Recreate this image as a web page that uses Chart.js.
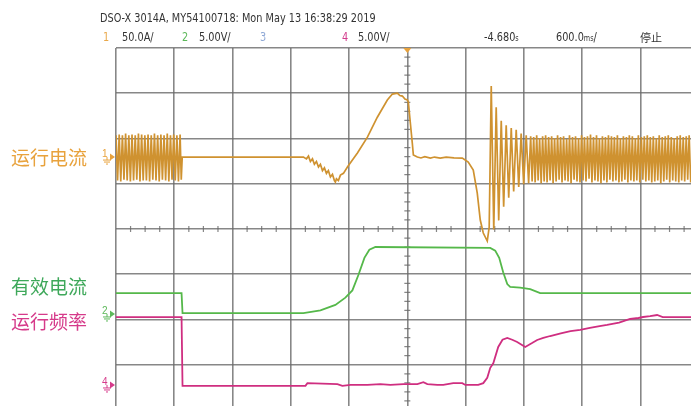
<!DOCTYPE html>
<html><head><meta charset="utf-8">
<script src="https://cdn.jsdelivr.net/npm/chart.js@4.4.1/dist/chart.umd.min.js"></script>
<style>
html,body{margin:0;padding:0;background:#fff;}
#wrap{position:relative;width:691px;height:406px;overflow:hidden;background:#fff;}
canvas{position:absolute;left:0;top:0;}
.t{position:absolute;white-space:nowrap;font-family:"Liberation Sans Narrow","DejaVu Sans Condensed","Liberation Sans",sans-serif;font-size:12px;color:#333;line-height:14px;transform:scaleX(0.9);transform-origin:0 50%;}
.lab{position:absolute;white-space:nowrap;font-family:"Noto Sans CJK SC",sans-serif;font-size:19px;line-height:22px;}
.sm{font-size:8px;}
</style></head><body>
<div id="wrap">
<canvas id="c" width="691" height="406"></canvas>
<div class="t" style="left:100px;top:11px;">DSO-X 3014A, MY54100718: Mon May 13 16:38:29 2019</div>
<div class="t" style="left:103px;top:30px;color:#E9A84A;">1</div>
<div class="t" style="left:122px;top:30px;">50.0A/</div>
<div class="t" style="left:182px;top:30px;color:#5DB85A;">2</div>
<div class="t" style="left:199px;top:30px;">5.00V/</div>
<div class="t" style="left:260px;top:30px;color:#8FA9D6;">3</div>
<div class="t" style="left:342px;top:30px;color:#D23C8C;">4</div>
<div class="t" style="left:358px;top:30px;">5.00V/</div>
<div class="t" style="left:484px;top:30px;">-4.680<span class="sm">s</span></div>
<div class="t" style="left:556px;top:30px;">600.0<span class="sm">ms</span>/</div>
<div class="t" style="left:640px;top:30px;font-family:'Noto Sans CJK SC';font-size:11px;transform:none;">停止</div>
<div class="lab" style="left:11px;top:146px;color:#E8A23C;">运行电流</div>
<div class="lab" style="left:11px;top:275px;color:#3EA85A;">有效电流</div>
<div class="lab" style="left:11px;top:310px;color:#D63A8A;">运行频率</div>
</div>
<script>
// ---- timebase / screen (oscilloscope settings) ----
const timeCenter = -4.680;      // s
const timePerDiv = 0.6;         // s/div
const visibleRightTime = -1.759; // image is cropped on the right
const yDivTop = 4, yDivBottom = -3.912; // visible vertical range in divisions

// channel settings: scale per division and ground position in divisions
const ch1Scale = 50, ch1Ground = 1.59;   // A/div
const ch2Scale = 5,  ch2Ground = -1.878; // V/div
const ch4Scale = 5,  ch4Ground = -3.447; // V/div

// ---- Channel 1: 运行电流 (A) ----
const ch1Time = [
-7.680,-7.664,-7.647,-7.631,-7.614,-7.598,-7.581,-7.565,-7.548,-7.532,
-7.515,-7.499,-7.482,-7.466,-7.449,-7.433,-7.416,-7.400,-7.383,-7.367,
-7.350,-7.334,-7.317,-7.301,-7.284,-7.268,-7.251,-7.235,-7.218,-7.202,
-7.185,-7.169,-7.152,-7.136,-7.119,-7.103,-7.086,-7.070,-7.053,-7.037,
-7.020,-7.008,-6.998,
-5.750,-5.719,-5.698,-5.678,-5.657,-5.637,-5.616,-5.595,-5.575,-5.554,
-5.534,-5.513,-5.493,-5.472,-5.451,-5.431,-5.421,-5.410,-5.390,-5.369,
-5.338,-5.297,-5.194,-5.091,-4.989,-4.886,-4.834,-4.783,-4.757,-4.731,
-4.705,-4.680,-4.670,-4.629,-4.618,-4.577,-4.540,-4.500,-4.443,-4.400,
-4.341,-4.280,-4.200,-4.114,-4.053,-4.001,-3.960,-3.929,-3.898,-3.857,
-3.837,
-3.816,-3.790,-3.765,-3.739,-3.713,-3.688,-3.662,-3.636,-3.610,-3.585,
-3.559,-3.533,-3.508,-3.482,-3.456,-3.431,
-3.410,-3.395,-3.379,-3.364,-3.348,-3.333,-3.318,-3.302,-3.287,-3.271,
-3.256,-3.241,-3.225,-3.210,-3.194,-3.179,-3.164,-3.148,-3.133,-3.117,
-3.102,-3.087,-3.071,-3.056,-3.040,-3.025,-3.010,-2.994,-2.979,-2.963,
-2.948,-2.933,-2.917,-2.902,-2.886,-2.871,-2.856,-2.840,-2.825,-2.809,
-2.794,-2.779,-2.763,-2.748,-2.732,-2.717,-2.702,-2.686,-2.671,-2.655,
-2.640,-2.625,-2.609,-2.594,-2.578,-2.563,-2.548,-2.532,-2.517,-2.501,
-2.486,-2.471,-2.455,-2.440,-2.424,-2.409,-2.394,-2.378,-2.363,-2.347,
-2.332,-2.317,-2.301,-2.286,-2.270,-2.255,-2.240,-2.224,-2.209,-2.193,
-2.178,-2.163,-2.147,-2.132,-2.116,-2.101,-2.086,-2.070,-2.055,-2.039,
-2.024,-2.009,-1.993,-1.978,-1.962,-1.947,-1.932,-1.916,-1.901,-1.885,
-1.870,-1.855,-1.839,-1.824,-1.808,-1.793,-1.778,-1.762
];
const ch1Amp = [
24,-26,25,-27,24,-25,26,-26,24,-27,
25,-26,24,-25,26,-27,25,-26,24,-26,
25,-27,24,-25,26,-26,24,-27,25,-25,
24,-26,26,-27,24,-25,25,-26,24,-27,
25,-25,0,
0,-2,1,-5,-2,-8,-5,-11,-8,-15,
-12,-18,-15,-22,-19,-26,-27.6,-24,-26,-20,
-18,-11,4.4,22,44,63,69.6,70.7,68,67.4,
64,63,60.8,15.5,2.2,0,-1,0.5,-1.1,0,
-1.1,0,-1,-1.1,-5.5,-14.4,-39.8,-69.6,-84,-92.8,
-77.4,
78.5,-80,55,-70,40,-55,35,-45,32,-38,
30,-33,26,-30,24,-29,
23,-27,22,-28,24,-26,21,-29,23,-27,
24,-28,22,-26,23,-29,21,-27,24,-25,
22,-28,23,-26,20,-27,24,-29,22,-25,
23,-27,21,-28,24,-26,22,-27,23,-24,
25,-28,22,-26,24,-27,21,-29,23,-26,
22,-28,24,-25,23,-27,22,-26,24,-28,
21,-27,23,-25,22,-28,24,-26,23,-27,
21,-26,24,-28,22,-25,23,-27,24,-26,
22,-28,23,-27,21,-26,24,-29,22,-27,
23,-25,24,-28,22,-26,21,-27,23,-28,
24,-26,22,-27,23,-25,24,-28
];

// ---- Channel 2: 有效电流 (V) ----
const ch2Time = [-7.680,-7.005,-6.995,-5.750,-5.575,-5.421,-5.318,-5.246,-5.184,-5.122,-5.071,-5.009,-3.826,-3.775,-3.734,-3.693,-3.651,-3.621,-3.518,-3.415,-3.312,-1.759];
const ch2Volt = [2.3,2.3,0.1,0.1,0.4,1.0,1.8,2.6,4.3,6.2,7.1,7.4,7.3,7.0,6.2,4.6,3.3,3.0,2.9,2.75,2.3,2.3];

// ---- Channel 4: 运行频率 (V) ----
const ch4Time = [-7.680,-7.005,-6.995,-5.729,-5.709,-5.400,-5.349,-5.266,-5.091,-4.958,-4.855,-4.721,-4.577,-4.515,-4.474,-4.371,-4.310,-4.207,-4.114,-4.083,-3.950,-3.898,-3.857,-3.826,-3.795,-3.744,-3.700,-3.651,-3.600,-3.549,-3.466,-3.400,-3.343,-3.280,-3.209,-3.100,-3.000,-2.900,-2.800,-2.700,-2.623,-2.500,-2.386,-2.300,-2.252,-2.180,-2.108,-2.050,-1.944,-1.759];
const ch4Volt = [7.5,7.5,-0.1,-0.1,0.2,0.1,-0.1,0.0,0.0,0.1,0.0,0.1,0.1,0.3,0.1,0.0,0.0,0.2,0.2,0.0,0.0,0.2,0.8,1.9,2.4,4.2,5.0,5.2,5.0,4.75,4.2,4.6,4.97,5.2,5.41,5.7,5.95,6.08,6.3,6.5,6.63,6.9,7.29,7.4,7.51,7.6,7.73,7.5,7.5,7.5];

// grid divisions
const xGridDivs = [-5,-4,-3,-2,-1,0,1,2,3,4];
const yGridDivs = [-3,-2,-1,0,1,2,3,4];

const pts = (t, v) => t.map((x, i) => ({x, y: v[i]}));
const chAxis = (scale, ground) => ({display:false, min:(yDivBottom-ground)*scale, max:(yDivTop-ground)*scale});

const gridColor = 'rgba(105,105,105,0.8)';

const scopePlugin = {
  id:'scope',
  beforeDatasetsDraw(chart){
    const {ctx} = chart, xs = chart.scales.x, ys = chart.scales.y;
    const cx = xs.getPixelForValue(timeCenter), cy = ys.getPixelForValue(0);
    ctx.save();
    ctx.strokeStyle = gridColor; ctx.lineWidth = 1.2;
    ctx.beginPath();
    for (let d = -5; d <= 5; d += 0.25){
      if (Math.abs(d - Math.round(d)) < 1e-6) continue;
      const px = xs.getPixelForValue(timeCenter + d*timePerDiv);
      ctx.moveTo(px, cy-3); ctx.lineTo(px, cy+3);
    }
    for (let d = -4; d <= 4; d += 0.2){
      if (Math.abs(d - Math.round(d)) < 1e-6) continue;
      const py = ys.getPixelForValue(d);
      ctx.moveTo(cx-3, py); ctx.lineTo(cx+3, py);
    }
    ctx.stroke();
    ctx.restore();
  },
  afterDraw(chart){
    const {ctx} = chart, xs = chart.scales.x;
    const left = chart.chartArea.left, top = chart.chartArea.top;
    ctx.save();
    const tx = xs.getPixelForValue(timeCenter);
    ctx.fillStyle = '#E8A23C';
    ctx.beginPath(); ctx.moveTo(tx-4, top); ctx.lineTo(tx+4, top); ctx.lineTo(tx, top+5); ctx.closePath(); ctx.fill();
    const marks = [['1','ch1','#E8A23C'],['2','ch2','#5DB85A'],['4','ch4','#D63A8A']];
    ctx.font = '10px "Liberation Sans", sans-serif';
    ctx.textBaseline = 'middle';
    for (const [n, id, col] of marks){
      const py = chart.scales[id].getPixelForValue(0);
      ctx.fillStyle = col; ctx.strokeStyle = col; ctx.lineWidth = 1;
      ctx.fillText(n, left-14, py-3);
      ctx.beginPath(); ctx.moveTo(left-6, py-3.5); ctx.lineTo(left-1, py); ctx.lineTo(left-6, py+3.5); ctx.closePath(); ctx.fill();
      ctx.beginPath();
      ctx.moveTo(left-9, py); ctx.lineTo(left-9, py+3);
      ctx.moveTo(left-13, py+3); ctx.lineTo(left-5, py+3);
      ctx.moveTo(left-12, py+5); ctx.lineTo(left-6, py+5);
      ctx.moveTo(left-10, py+7); ctx.lineTo(left-8, py+7);
      ctx.stroke();
    }
    ctx.restore();
  }
};

new Chart(document.getElementById('c'), {
  type:'scatter',
  data:{datasets:[
    {data:pts(ch1Time, ch1Amp), yAxisID:'ch1', borderColor:'#CF9230', borderWidth:1.7, showLine:true, pointRadius:0, tension:0},
    {data:pts(ch2Time, ch2Volt), yAxisID:'ch2', borderColor:'#55B84A', borderWidth:1.8, showLine:true, pointRadius:0, tension:0},
    {data:pts(ch4Time, ch4Volt), yAxisID:'ch4', borderColor:'#CF2E80', borderWidth:1.8, showLine:true, pointRadius:0, tension:0}
  ]},
  options:{
    responsive:false, animation:false, events:[],
    layout:{padding:{left:116, top:48, right:0, bottom:0}},
    plugins:{legend:{display:false}, tooltip:{enabled:false}},
    scales:{
      x:{type:'linear', min:timeCenter-5*timePerDiv, max:visibleRightTime,
         afterBuildTicks:s=>{s.ticks = xGridDivs.map(d=>({value:timeCenter + d*timePerDiv}));},
         ticks:{display:false}, border:{display:false},
         grid:{color:gridColor, lineWidth:1.6, drawTicks:false}},
      y:{type:'linear', min:yDivBottom, max:yDivTop,
         afterBuildTicks:s=>{s.ticks = yGridDivs.map(d=>({value:d}));},
         ticks:{display:false}, border:{display:false},
         grid:{color:gridColor, lineWidth:1.6, drawTicks:false}},
      ch1:chAxis(ch1Scale, ch1Ground),
      ch2:chAxis(ch2Scale, ch2Ground),
      ch4:chAxis(ch4Scale, ch4Ground)
    }
  },
  plugins:[scopePlugin]
});
</script>
</body></html>
